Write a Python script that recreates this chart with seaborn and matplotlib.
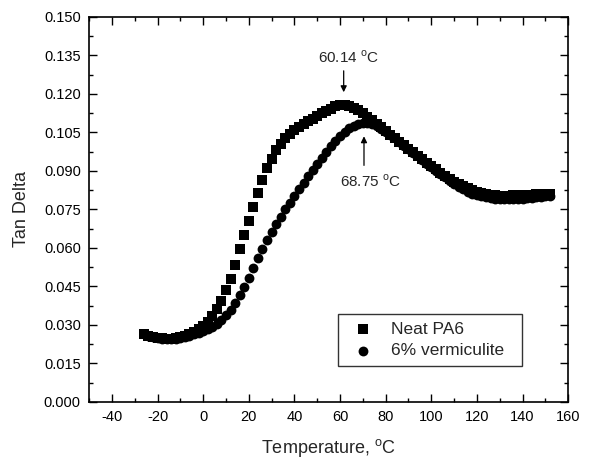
import matplotlib

matplotlib.use("Agg")
import matplotlib.pyplot as plt
import pandas as pd
import seaborn as sns
from matplotlib.ticker import FormatStrFormatter, MultipleLocator

# Temperature (deg C) of each DMA reading
temperature = [
    -26, -24, -22, -20, -18, -16, -14, -12, -10, -8, -6, -4, -2,
    0, 2, 4, 6, 8, 10, 12, 14, 16, 18, 20, 22, 24, 26, 28, 30, 32, 34, 36, 38,
    40, 42, 44, 46, 48, 50, 52, 54, 56, 58, 60, 62, 64, 66, 68, 70, 72, 74, 76, 78,
    80, 82, 84, 86, 88, 90, 92, 94, 96, 98, 100, 102, 104, 106, 108, 110, 112, 114,
    116, 118, 120, 122, 124, 126, 128, 130, 132, 134, 136, 138, 140, 142, 144, 146,
    148, 150, 152,
]

# Tan delta, neat PA6 (squares)
tan_neat = [
    0.0265, 0.0258, 0.0253, 0.0250, 0.0248, 0.0247, 0.0247, 0.0249, 0.0252, 0.0257, 0.0264, 0.0272, 0.0283,
    0.0295, 0.0313, 0.0335, 0.0362, 0.0395, 0.0435, 0.0480, 0.0535, 0.0595, 0.0650, 0.0705, 0.0760, 0.0815,
    0.0865, 0.0910, 0.0948, 0.0980, 0.1005, 0.1027, 0.1045,
    0.1059, 0.1071, 0.1082, 0.1093, 0.1104, 0.1114, 0.1124, 0.1134, 0.1143, 0.1152, 0.1158, 0.1159, 0.1155,
    0.1147, 0.1137, 0.1125, 0.1112, 0.1098, 0.1084, 0.1070,
    0.1056, 0.1042, 0.1028, 0.1014, 0.1000, 0.0986, 0.0972, 0.0958, 0.0945, 0.0932, 0.0919, 0.0906, 0.0894,
    0.0882, 0.0870, 0.0859, 0.0849, 0.0840,
    0.0832, 0.0825, 0.0819, 0.0814, 0.0810, 0.0807, 0.0805, 0.0804, 0.0804, 0.0804, 0.0805, 0.0805, 0.0806,
    0.0807, 0.0808, 0.0809, 0.0810, 0.0811, 0.0812,
]

# Tan delta, PA6 with 6% vermiculite (circles)
tan_verm = [
    0.0265, 0.0258, 0.0252, 0.0248, 0.0246, 0.0245, 0.0245, 0.0246, 0.0249, 0.0252, 0.0257, 0.0263, 0.0269,
    0.0276, 0.0284, 0.0293, 0.0305, 0.0320, 0.0338, 0.0360, 0.0386, 0.0416, 0.0449, 0.0484, 0.0522, 0.0560,
    0.0596, 0.0630, 0.0662, 0.0693, 0.0722, 0.0750, 0.0777,
    0.0803, 0.0829, 0.0854, 0.0879, 0.0903, 0.0928, 0.0952, 0.0975, 0.0998, 0.1018, 0.1037, 0.1053, 0.1066,
    0.1076, 0.1083, 0.1087, 0.1087, 0.1083, 0.1075, 0.1065,
    0.1053, 0.1040, 0.1027, 0.1013, 0.0999, 0.0985, 0.0971, 0.0957, 0.0943, 0.0929, 0.0915, 0.0901, 0.0888,
    0.0875, 0.0862, 0.0850, 0.0839, 0.0829,
    0.0820, 0.0812, 0.0806, 0.0801, 0.0797, 0.0794, 0.0792, 0.0791, 0.0790, 0.0790, 0.0790, 0.0791, 0.0792,
    0.0794, 0.0796, 0.0798, 0.0800, 0.0802, 0.0804,
]

df = pd.DataFrame({"temp": temperature, "neat": tan_neat, "verm": tan_verm})

sns.set_style("ticks")
plt.rcParams["font.family"] = ["Liberation Sans", "DejaVu Sans"]
plt.rcParams["mathtext.fontset"] = "custom"
plt.rcParams["mathtext.rm"] = "Liberation Sans"
plt.rcParams["axes.unicode_minus"] = False

fig = plt.figure(figsize=(5.9, 4.65), dpi=100)
ax = fig.add_axes([0.151, 0.1355, 0.812, 0.828])

sns.scatterplot(data=df, x="temp", y="neat", marker="s", s=44, color="black",
                linewidth=0, label="Neat PA6", ax=ax, zorder=3)
sns.scatterplot(data=df, x="temp", y="verm", marker="o", s=50, color="black",
                linewidth=0, label="6% vermiculite", ax=ax, zorder=3)

ax.set_xlim(-50, 160)
ax.set_ylim(0, 0.150)
ax.xaxis.set_major_locator(MultipleLocator(20))
ax.xaxis.set_minor_locator(MultipleLocator(10))
ax.yaxis.set_major_locator(MultipleLocator(0.015))
ax.yaxis.set_minor_locator(MultipleLocator(0.0075))
ax.yaxis.set_major_formatter(FormatStrFormatter("%.3f"))
ax.tick_params(which="both", direction="in", top=True, right=True,
               labeltop=False, labelright=False, width=1, colors="black")
ax.tick_params(which="major", length=6, labelsize=10.5, pad=6)
ax.tick_params(which="minor", length=3)
for spine in ax.spines.values():
    spine.set_linewidth(1.2)
    spine.set_color("black")

ax.set_xlabel(r"Temperature, $^\mathregular{o}$C", fontsize=13, labelpad=9)
ax.set_ylabel("Tan Delta", fontsize=13, labelpad=10)

# peak markers
ax.annotate("", xy=(61.6, 0.1196), xytext=(61.6, 0.1301),
            arrowprops=dict(arrowstyle="-|>", color="black", lw=0.9, mutation_scale=9))
ax.text(63.7, 0.1344, r"60.14 $^\mathregular{o}$C", ha="center", va="center", fontsize=11)
ax.annotate("", xy=(70.5, 0.1046), xytext=(70.5, 0.0911),
            arrowprops=dict(arrowstyle="-|>", color="black", lw=0.9, mutation_scale=9))
ax.text(73.4, 0.0860, r"68.75 $^\mathregular{o}$C", ha="center", va="center", fontsize=11)

leg = ax.legend(loc="lower left", bbox_to_anchor=(0.5198, 0.0935, 0.384, 0.14),
                mode="expand", borderaxespad=0, frameon=True, fancybox=False,
                edgecolor="black", fontsize=12.5, handletextpad=0.6,
                borderpad=0.45, labelspacing=0.35)
leg.get_frame().set_linewidth(1.0)

fig.savefig("out.png", dpi=100)
